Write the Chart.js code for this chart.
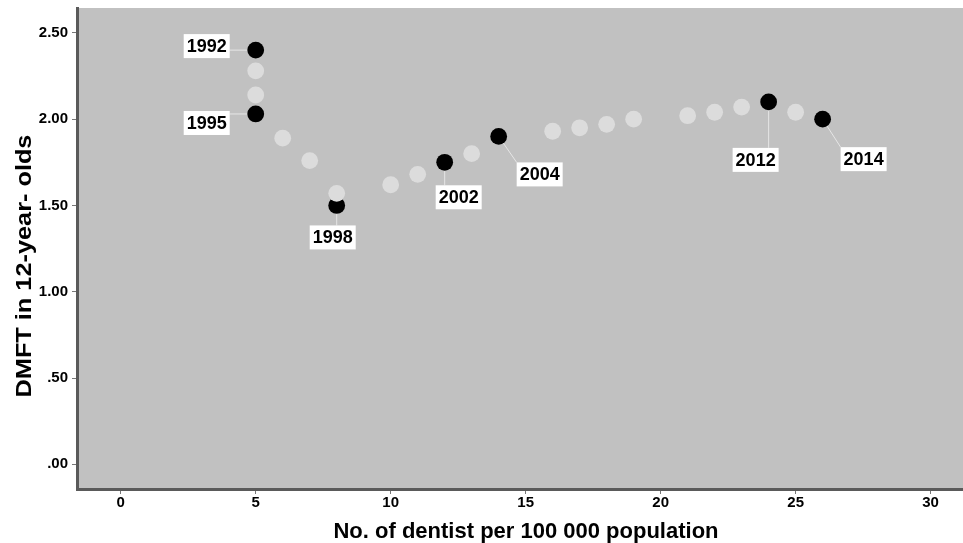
<!DOCTYPE html>
<html>
<head>
<meta charset="utf-8">
<title>DMFT and dentists</title>
<script src="https://cdn.jsdelivr.net/npm/chart.js@4.4.0/dist/chart.umd.min.js"></script>
<style>
  html, body { margin: 0; padding: 0; background: #fff; }
  canvas { display: block; }
</style>
</head>
<body>
<canvas id="chart" width="963" height="543"></canvas>
<script>
// grey points: years without a label
const otherDentists = [5, 5, 6, 7, 8, 10, 11, 13, 16, 17, 18, 19, 21, 22, 23, 25];
const otherDmft = [2.28, 2.14, 1.89, 1.76, 1.57, 1.62, 1.68, 1.80, 1.93, 1.95, 1.97, 2.00, 2.02, 2.04, 2.07, 2.04];

// black points: labelled years
const surveyYears = ['1992', '1995', '1998', '2002', '2004', '2012', '2014'];
const surveyDentists = [5, 5, 8, 12, 14, 24, 26];
const surveyDmft = [2.40, 2.03, 1.50, 1.75, 1.90, 2.10, 2.00];

const xTicks = [0, 5, 10, 15, 20, 25, 30];
const yTicks = [0, 0.5, 1, 1.5, 2, 2.5];

const xTitle = 'No. of dentist per 100 000 population';
const yTitle = 'DMFT in 12-year- olds';

// where each year box sits, relative to its point (px)
const calloutOffsets = {
  '1992': [-49, -4],
  '1995': [-49, 9],
  '1998': [-4, 32],
  '2002': [14, 35],
  '2004': [41, 38],
  '2012': [-13, 58],
  '2014': [41, 40]
};

const FONT = '"Liberation Sans", Arial, sans-serif';
Chart.defaults.font.family = FONT;

function calloutBox(chart, i) {
  const pt = chart.getDatasetMeta(1).data[i];
  const off = calloutOffsets[surveyYears[i]];
  const w = 46, h = 24;
  return { px: pt.x, py: pt.y, left: pt.x + off[0] - w / 2, top: pt.y + off[1] - h / 2, w: w, h: h };
}

const chartDecor = {
  id: 'chartDecor',
  beforeDraw(chart) {
    const { ctx, chartArea: a } = chart;
    ctx.save();
    ctx.fillStyle = '#c1c1c1';
    ctx.fillRect(a.left, a.top, a.right - a.left, a.bottom - a.top);
    ctx.restore();
  },
  beforeDatasetsDraw(chart) {
    // thin leader lines from the point to the edge of its box
    const ctx = chart.ctx;
    ctx.save();
    ctx.strokeStyle = '#e6e6e6';
    ctx.lineWidth = 1;
    surveyYears.forEach((y, i) => {
      const b = calloutBox(chart, i);
      const ex = Math.min(Math.max(b.px, b.left), b.left + b.w);
      const ey = Math.min(Math.max(b.py, b.top), b.top + b.h);
      ctx.beginPath();
      ctx.moveTo(b.px, b.py);
      ctx.lineTo(ex, ey);
      ctx.stroke();
    });
    ctx.restore();
  },
  afterDatasetsDraw(chart) {
    const ctx = chart.ctx;
    ctx.save();
    ctx.font = 'bold 18px ' + FONT;
    ctx.textAlign = 'center';
    ctx.textBaseline = 'middle';
    surveyYears.forEach((y, i) => {
      const b = calloutBox(chart, i);
      ctx.fillStyle = '#ffffff';
      ctx.fillRect(b.left, b.top, b.w, b.h);
      ctx.fillStyle = '#000000';
      ctx.fillText(y, b.left + b.w / 2, b.top + b.h / 2 + 1);
    });
    ctx.restore();
  },
  afterDraw(chart) {
    const ctx = chart.ctx;
    ctx.save();
    ctx.fillStyle = '#000';
    ctx.font = 'bold 22px ' + FONT;
    ctx.textAlign = 'center';
    ctx.textBaseline = 'alphabetic';
    ctx.fillText(xTitle, 526, 538);
    ctx.translate(31, 266);
    ctx.rotate(-Math.PI / 2);
    ctx.scale(1.15, 1);
    ctx.fillText(yTitle, 0, 0);
    ctx.restore();
  }
};

new Chart(document.getElementById('chart').getContext('2d'), {
  type: 'scatter',
  data: {
    datasets: [
      {
        label: 'other years',
        data: otherDentists.map((x, i) => ({ x: x, y: otherDmft[i] })),
        backgroundColor: '#dcdcdc',
        borderWidth: 0,
        pointRadius: 8.4,
        pointHoverRadius: 8.4
      },
      {
        label: 'survey years',
        data: surveyDentists.map((x, i) => ({ x: x, y: surveyDmft[i] })),
        backgroundColor: '#000000',
        borderWidth: 0,
        pointRadius: 8.4,
        pointHoverRadius: 8.4
      }
    ]
  },
  options: {
    responsive: false,
    animation: false,
    layout: { autoPadding: false, padding: { top: 8, right: 0, left: 0, bottom: 0 } },
    plugins: {
      legend: { display: false },
      tooltip: { enabled: false }
    },
    scales: {
      x: {
        type: 'linear',
        min: -1.62,
        max: 31.2,
        afterBuildTicks: s => { s.ticks = xTicks.map(v => ({ value: v })); },
        afterFit: s => { s.height = 54; s.paddingLeft = 0; s.paddingRight = 0; },
        grid: { drawOnChartArea: false, drawTicks: true, tickLength: 5, color: '#777', lineWidth: 1 },
        border: { display: true, color: '#5a5a5a', width: 3 },
        ticks: { color: '#000', font: { size: 15, weight: 'bold' }, padding: 0, maxRotation: 0, autoSkip: false }
      },
      y: {
        type: 'linear',
        min: -0.143,
        max: 2.644,
        afterBuildTicks: s => { s.ticks = yTicks.map(v => ({ value: v })); },
        afterFit: s => { s.width = 77; s.paddingTop = 0; s.paddingBottom = 0; },
        grid: { drawOnChartArea: false, drawTicks: true, tickLength: 5, color: '#777', lineWidth: 1 },
        border: { display: true, color: '#5a5a5a', width: 3 },
        ticks: {
          color: '#000',
          font: { size: 15, weight: 'bold' },
          padding: 4,
          autoSkip: false,
          callback: v => v.toFixed(2).replace(/^0/, '')
        }
      }
    }
  },
  plugins: [chartDecor]
});
</script>
</body>
</html>
